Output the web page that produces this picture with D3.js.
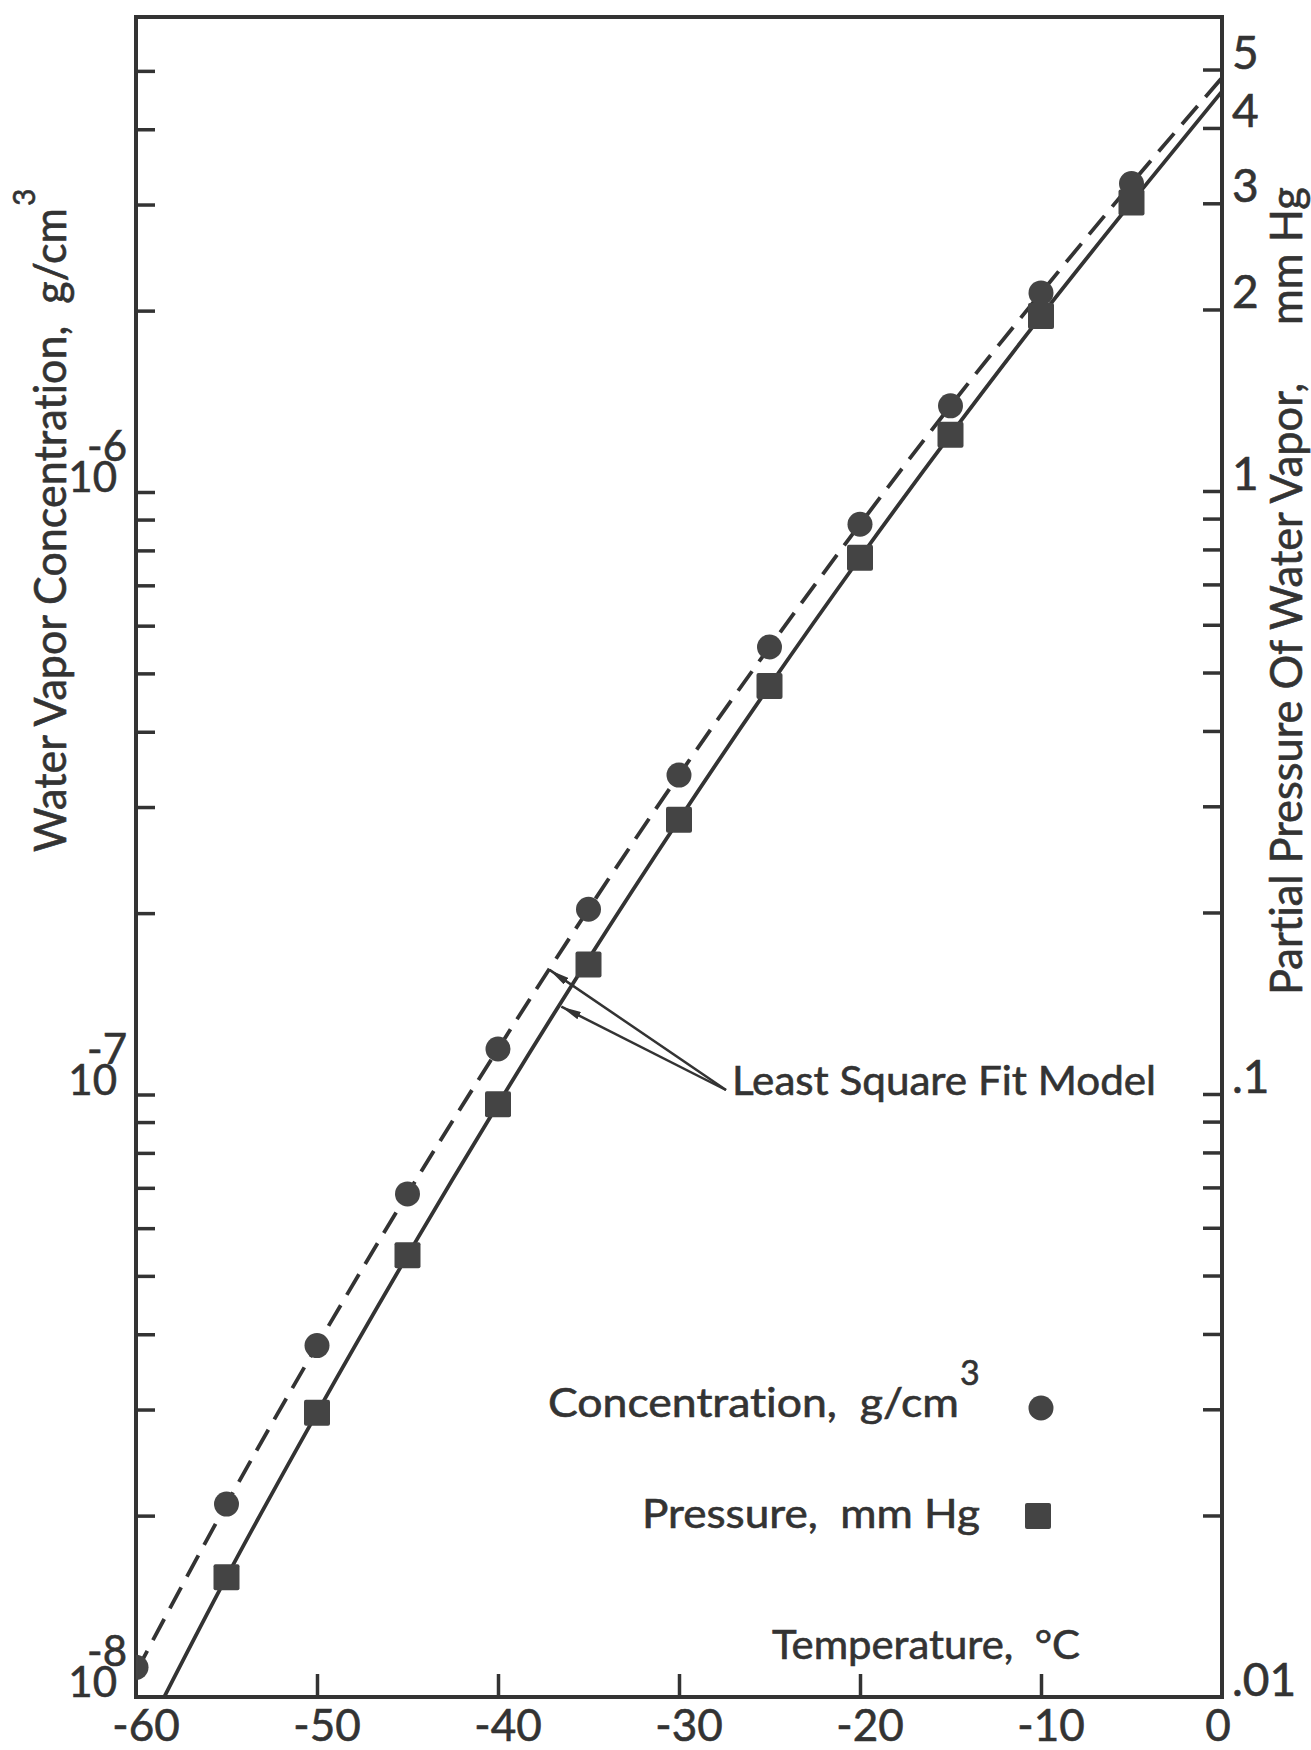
<!DOCTYPE html>
<html>
<head>
<meta charset="utf-8">
<script src="https://cdn.jsdelivr.net/npm/d3@7/dist/d3.min.js"></script>
<style>
    body { margin: 0; background: #fff; }
    text { font-family: Lato, "Noto Sans", sans-serif; fill: #333; stroke: #333; stroke-width: 0.6px; font-variant-ligatures: none; }
</style>
</head>
<body>
<svg id="chart" width="1311" height="1750"></svg>
<script>
// measured points, temperature in C
const tempsConc = [-60, -55, -50, -45, -40, -35, -30, -25, -20, -15, -10, -5];
const concentration = [1.12e-8, 2.09e-8, 3.83e-8, 6.84e-8, 1.19e-7, 2.03e-7, 3.39e-7, 5.53e-7, 8.84e-7, 1.39e-6, 2.14e-6, 3.25e-6];
const tempsPress = [-55, -50, -45, -40, -35, -30, -25, -20, -15, -10, -5];
const pressure = [0.0158, 0.0296, 0.054, 0.0962, 0.164, 0.285, 0.475, 0.775, 1.24, 1.95, 3.01];

// least square fit model curves
const fitTemps = [-60, -55, -50, -45, -40, -35, -30, -25, -20, -15, -10, -5, 0];
const fitConc = [1.10e-8, 2.09e-8, 3.83e-8, 6.84e-8, 1.19e-7, 2.03e-7, 3.39e-7, 5.53e-7, 8.84e-7, 1.39e-6, 2.14e-6, 3.25e-6, 4.87e-6];
const fitPress = [0.0081, 0.0158, 0.0296, 0.054, 0.0962, 0.1675, 0.285, 0.475, 0.775, 1.24, 1.95, 3.01, 4.6];

// ticks and labels
const xTicks = [-60, -50, -40, -30, -20, -10, 0];
const xTickLabels = ["-60", "-50", "-40", "-30", "-20", "-10", "0"];
const leftMinor = [2e-8, 3e-8, 4e-8, 5e-8, 6e-8, 7e-8, 8e-8, 9e-8, 1e-7, 2e-7, 3e-7, 4e-7, 5e-7, 6e-7, 7e-7, 8e-7, 9e-7, 1e-6, 2e-6, 3e-6, 4e-6, 5e-6];
const leftLabelVals = [1e-8, 1e-7, 1e-6];
const leftLabelExp = ["-8", "-7", "-6"];
const rightMinor = [0.02, 0.03, 0.04, 0.05, 0.06, 0.07, 0.08, 0.09, 0.1, 0.2, 0.3, 0.4, 0.5, 0.6, 0.7, 0.8, 0.9, 1, 2, 3, 4, 5];
const rightLabelVals = [0.01, 0.1, 1, 2, 3, 4, 5];
const rightLabels = [".01", ".1", "1", "2", "3", "4", "5"];

// annotation arrow targets (temperature, value)
const arrowConc = [-37.15, 1.61e-7];
const arrowPress = [-36.5, 0.1396];

const INK = "#333";
const MARK = "#444";

const pLeft = 136, pRight = 1222, pTop = 17, pBottom = 1697;

var svg = d3.select("#chart");
svg.append("rect").attr("width", 1311).attr("height", 1750).attr("fill", "#fff");

var x = d3.scaleLinear().domain([-60, 0]).range([pLeft, pRight]);
var yC = d3.scaleLog().domain([1e-8, 1e-6]).range([pBottom, 492]);
var yP = d3.scaleLog().domain([0.01, 1]).range([pBottom, 491]);

var defs = svg.append("defs");
defs.append("clipPath").attr("id", "plot-clip")
    .append("rect")
    .attr("x", pLeft).attr("y", pTop)
    .attr("width", pRight - pLeft).attr("height", pBottom - pTop);

defs.append("marker")
    .attr("id", "arrow")
    .attr("markerUnits", "userSpaceOnUse")
    .attr("viewBox", "0 0 20 8")
    .attr("refX", 20).attr("refY", 4)
    .attr("markerWidth", 20).attr("markerHeight", 8)
    .attr("orient", "auto")
    .append("path")
    .attr("d", "M0,0 L20,4 L0,8 Z")
    .attr("fill", INK);

// axes (ticks inside the frame)
var gLeft = svg.append("g").attr("transform", "translate(" + pLeft + ",0)")
    .call(d3.axisRight(yC).tickValues(leftMinor).tickSize(19).tickFormat(""));
var gRight = svg.append("g").attr("transform", "translate(" + pRight + ",0)")
    .call(d3.axisLeft(yP).tickValues(rightMinor).tickSize(19).tickFormat(""));
var gBottom = svg.append("g").attr("transform", "translate(0," + pBottom + ")")
    .call(d3.axisTop(x).tickValues([-50, -40, -30, -20, -10]).tickSize(23).tickFormat(""));

[gLeft, gRight, gBottom].forEach(function (g) {
    g.select(".domain").remove();
    g.selectAll(".tick line").attr("stroke", INK).attr("stroke-width", 3.5);
});

// frame
svg.append("rect")
    .attr("x", pLeft).attr("y", pTop)
    .attr("width", pRight - pLeft).attr("height", pBottom - pTop)
    .attr("fill", "none")
    .attr("stroke", INK)
    .attr("stroke-width", 4);

// fit lines
var plot = svg.append("g").attr("clip-path", "url(#plot-clip)");

var concLine = d3.line()
    .x(function (d, i) { return x(fitTemps[i]); })
    .y(function (d) { return yC(d); })
    .curve(d3.curveMonotoneX);
var pressLine = d3.line()
    .x(function (d, i) { return x(fitTemps[i]); })
    .y(function (d) { return yP(d); })
    .curve(d3.curveMonotoneX);

plot.append("path")
    .attr("d", concLine(fitConc))
    .attr("fill", "none")
    .attr("stroke", INK)
    .attr("stroke-width", 3.8)
    .attr("stroke-dasharray", "24,12");

plot.append("path")
    .attr("d", pressLine(fitPress))
    .attr("fill", "none")
    .attr("stroke", INK)
    .attr("stroke-width", 3.8);

// markers
plot.selectAll("circle.conc")
    .data(concentration)
    .enter()
    .append("circle")
    .attr("class", "conc")
    .attr("cx", function (d, i) { return x(tempsConc[i]); })
    .attr("cy", function (d) { return yC(d); })
    .attr("r", 12.5)
    .attr("fill", MARK);

plot.selectAll("rect.press")
    .data(pressure)
    .enter()
    .append("rect")
    .attr("class", "press")
    .attr("x", function (d, i) { return x(tempsPress[i]) - 13; })
    .attr("y", function (d) { return yP(d) - 13; })
    .attr("width", 26)
    .attr("height", 26)
    .attr("rx", 2)
    .attr("fill", MARK);

// tick labels
svg.selectAll("text.xlab")
    .data(xTicks)
    .enter()
    .append("text")
    .attr("class", "xlab")
    .attr("x", function (d) { return x(d) + (d < 0 ? 10 : -4); })
    .attr("y", 1741)
    .attr("text-anchor", "middle")
    .attr("font-size", 44)
    .text(function (d, i) { return xTickLabels[i]; });

svg.selectAll("text.rlab")
    .data(rightLabelVals)
    .enter()
    .append("text")
    .attr("class", "rlab")
    .attr("x", pRight + 10)
    .attr("y", function (d) { return yP(d) - 1; })
    .attr("font-size", 46)
    .text(function (d, i) { return rightLabels[i]; });

// 10 with the exponent stacked above it
var leftLabs = svg.selectAll("text.llab")
    .data(leftLabelVals)
    .enter()
    .append("text")
    .attr("class", "llab")
    .attr("x", pLeft - 9)
    .attr("y", function (d) { return yC(d); })
    .attr("text-anchor", "end")
    .attr("font-size", 42);
leftLabs.append("tspan").text("10");
leftLabs.append("tspan")
    .attr("dx", -30)
    .attr("dy", -31)
    .text(function (d, i) { return leftLabelExp[i]; });

// axis titles
var lt = svg.append("g").attr("transform", "translate(66,852) rotate(-90)");
lt.append("text")
    .attr("font-size", 44)
    .attr("textLength", 644)
    .attr("lengthAdjust", "spacingAndGlyphs")
    .style("white-space", "pre")
    .text("Water Vapor Concentration,  g/cm");
lt.append("text")
    .attr("x", 646).attr("y", -31)
    .attr("font-size", 30)
    .text("3");

var rt = svg.append("g").attr("transform", "translate(1302,995) rotate(-90)");
rt.append("text")
    .attr("font-size", 44)
    .attr("textLength", 612)
    .attr("lengthAdjust", "spacingAndGlyphs")
    .text("Partial Pressure Of Water Vapor,");
rt.append("text")
    .attr("x", 670)
    .attr("font-size", 44)
    .attr("textLength", 138)
    .attr("lengthAdjust", "spacingAndGlyphs")
    .text("mm Hg");

svg.append("text")
    .attr("x", 772).attr("y", 1659)
    .attr("font-size", 40)
    .attr("textLength", 308)
    .attr("lengthAdjust", "spacingAndGlyphs")
    .style("white-space", "pre")
    .text("Temperature,  \u00b0C");

// legend
svg.append("text")
    .attr("x", 548).attr("y", 1417)
    .attr("font-size", 40)
    .attr("textLength", 411)
    .attr("lengthAdjust", "spacingAndGlyphs")
    .style("white-space", "pre")
    .text("Concentration,  g/cm");
svg.append("text")
    .attr("x", 960).attr("y", 1385)
    .attr("font-size", 34)
    .text("3");
svg.append("circle")
    .attr("cx", 1041).attr("cy", 1408).attr("r", 12.5)
    .attr("fill", MARK);

svg.append("text")
    .attr("x", 642).attr("y", 1528)
    .attr("font-size", 40)
    .attr("textLength", 338)
    .attr("lengthAdjust", "spacingAndGlyphs")
    .style("white-space", "pre")
    .text("Pressure,  mm Hg");
svg.append("rect")
    .attr("x", 1025).attr("y", 1503)
    .attr("width", 26).attr("height", 26).attr("rx", 2)
    .attr("fill", MARK);

// least square fit annotation
svg.append("text")
    .attr("x", 732).attr("y", 1095)
    .attr("font-size", 40)
    .attr("textLength", 424)
    .attr("lengthAdjust", "spacingAndGlyphs")
    .text("Least Square Fit Model");

var from = [726, 1090];
[[x(arrowConc[0]), yC(arrowConc[1])], [x(arrowPress[0]), yP(arrowPress[1])]].forEach(function (p) {
    svg.append("line")
        .attr("x1", from[0]).attr("y1", from[1])
        .attr("x2", p[0]).attr("y2", p[1])
        .attr("stroke", INK)
        .attr("stroke-width", 2.5)
        .attr("marker-end", "url(#arrow)");
});
</script>
</body>
</html>
